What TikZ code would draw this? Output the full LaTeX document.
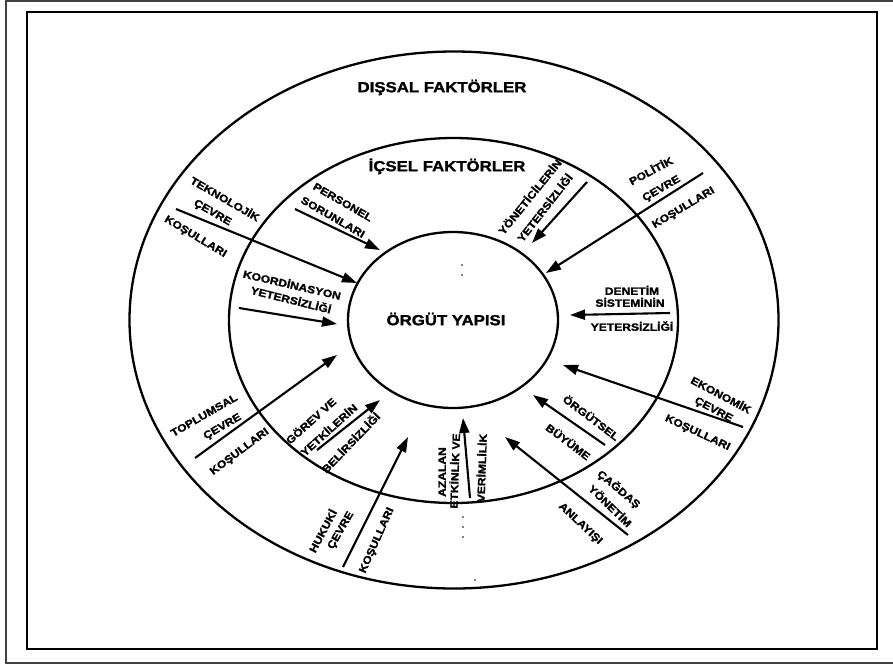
\documentclass[tikz,border=0pt]{standalone}
\usepackage{fontspec}
\newfontfamily\heavy{Liberation Sans}[UprightFont={* Bold}, FakeStretch=1.15, FakeBold=1.6]
\usetikzlibrary{arrows.meta,shapes.geometric}
\begin{document}
\begin{tikzpicture}[x=1pt,y=-1pt,
  lab/.style={font=\heavy\fontsize{10.5}{12}\selectfont, inner sep=0pt, text height=7.5pt, text depth=0pt},
  title/.style={font=\heavy\fontsize{14.6}{16}\selectfont, inner sep=0pt, text height=10.4pt, text depth=0pt},
  ring/.style={draw, ellipse, line width=2.3pt, inner sep=0pt},
  flow/.style={line width=2.1pt, -{Triangle[length=15pt,width=10pt]}}]

\useasboundingbox (0,0) rectangle (893,665);

% page frame and panel border
\draw[line width=1.6pt, black!75] (893,1) -- (6,1) -- (6,663) -- (893,663);
\draw[line width=2.2pt] (27,12) rectangle (877,649);

% the three rings
\node[ring, minimum width=649pt, minimum height=537pt] (outer) at (454,320) {};
\node[ring, minimum width=449pt, minimum height=365pt] (inner) at (453.5,320.5) {};
\node[ring, minimum width=210pt, minimum height=176pt] (core) at (453,320) {};

% ring titles
\node[title] (dis) at (442,87) {DIŞSAL FAKTÖRLER};
\node[title] (ic) at (447,166) {İÇSEL FAKTÖRLER};
\node[title] (org) at (446,320) {ÖRGÜT YAPISI};

% ---- external factors ----
\coordinate (tekS) at (176,209); \coordinate (tekE) at (357,283);
\draw[flow] (tekS) -- (tekE);
\node[lab, rotate=-30] (tek1) at (225,199) {TEKNOLOJİK};
\node[lab, rotate=-30] (tek2) at (213,212) {ÇEVRE};
\node[lab, rotate=-31] (tek3) at (196,236) {KOŞULLARI};

\coordinate (polS) at (703,173); \coordinate (polE) at (546,273);
\draw[flow] (polS) -- (polE);
\node[lab, rotate=28] (pol1) at (651,171) {POLİTİK};
\node[lab, rotate=30] (pol2) at (661,188) {ÇEVRE};
\node[lab, rotate=31] (pol3) at (683,207) {KOŞULLARI};

\coordinate (ekoS) at (743,427); \coordinate (ekoE) at (563,365);
\draw[flow] (ekoS) -- (ekoE);
\node[lab, rotate=-28] (eko1) at (721,395) {EKONOMİK};
\node[lab, rotate=-28] (eko2) at (714,409) {ÇEVRE};
\node[lab, rotate=-25] (eko3) at (698,432) {KOŞULLARI};

\coordinate (cagS) at (628,535); \coordinate (cagE) at (505,437);
\draw[flow] (cagS) -- (cagE);
\node[lab, rotate=-40] (cag1) at (619,489) {ÇAĞDAŞ};
\node[lab, rotate=-44] (cag2) at (610,506) {YÖNETİM};
\node[lab, rotate=-43] (cag3) at (581,523) {ANLAYIŞI};

\coordinate (hukS) at (343,567); \coordinate (hukE) at (408,437);
\draw[flow] (hukS) -- (hukE);
\node[lab, rotate=62] (huk1) at (323,531) {HUKUKİ};
\node[lab, rotate=60] (huk2) at (340,530) {ÇEVRE};
\node[lab, rotate=66] (huk3) at (376,540) {KOŞULLARI};

\coordinate (topS) at (195,458); \coordinate (topE) at (337,355);
\draw[flow] (topS) -- (topE);
\node[lab, rotate=30] (top1) at (204,415) {TOPLUMSAL};
\node[lab, rotate=30] (top2) at (222,426) {ÇEVRE};
\node[lab, rotate=37] (top3) at (239,451) {KOŞULLARI};

% ---- internal factors ----
\coordinate (perS) at (295,209); \coordinate (perE) at (380,250);
\draw[flow] (perS) -- (perE);
\node[lab, rotate=-30] (per1) at (343,202) {PERSONEL};
\node[lab, rotate=-30] (per2) at (333,217) {SORUNLARI};

\coordinate (yonS) at (587,182); \coordinate (yonE) at (532,243);
\draw[flow] (yonS) -- (yonE);
\node[lab, rotate=51] (yon1) at (530,197) {YÖNETİCİLERİN};
\node[lab, rotate=52] (yon2) at (545,208) {YETERSİZLİĞİ};

\coordinate (denS) at (670,313); \coordinate (denE) at (570,315);
\draw[flow] (denS) -- (denE);
\node[lab] (den1) at (632,291) {DENETİM};
\node[lab] (den2) at (630,303) {SİSTEMİNİN};
\node[lab] (den3) at (632,327) {YETERSİZLİĞİ};

\coordinate (buyS) at (605,445); \coordinate (buyE) at (533,395);
\draw[flow] (buyS) -- (buyE);
\node[lab, rotate=-37] (buy1) at (591,418) {ÖRGÜTSEL};
\node[lab, rotate=-37] (buy2) at (568,442) {BÜYÜME};

\coordinate (azaS) at (470,498); \coordinate (azaE) at (463,418);
\draw[flow] (azaS) -- (azaE);
\node[lab, rotate=90] (aza1) at (442,472) {AZALAN};
\node[lab, rotate=88] (aza2) at (455,471) {ETKİNLİK VE};
\node[lab, rotate=88] (aza3) at (482,468) {VERİMLİLİK};

\coordinate (gorS) at (317,450); \coordinate (gorE) at (380,400);
\draw[flow] (gorS) -- (gorE);
\node[lab, rotate=42] (gor1) at (311,421) {GÖREV VE};
\node[lab, rotate=42] (gor2) at (329,430) {YETKİLERİN};
\node[lab, rotate=46] (gor3) at (351,443) {BELİRSİZLİĞİ};

\coordinate (kooS) at (239,308); \coordinate (kooE) at (337,324);
\draw[flow] (kooS) -- (kooE);
\node[lab, rotate=-13] (koo1) at (292,285) {KOORDİNASYON};
\node[lab, rotate=-14] (koo2) at (291,300) {YETERSİZLİĞİ};

% print specks
\foreach \p in {(462,265),(462,275),(463,517),(463,527),(463,537),(475,580)}
  \fill \p circle[radius=0.9pt];
\end{tikzpicture}
\end{document}
